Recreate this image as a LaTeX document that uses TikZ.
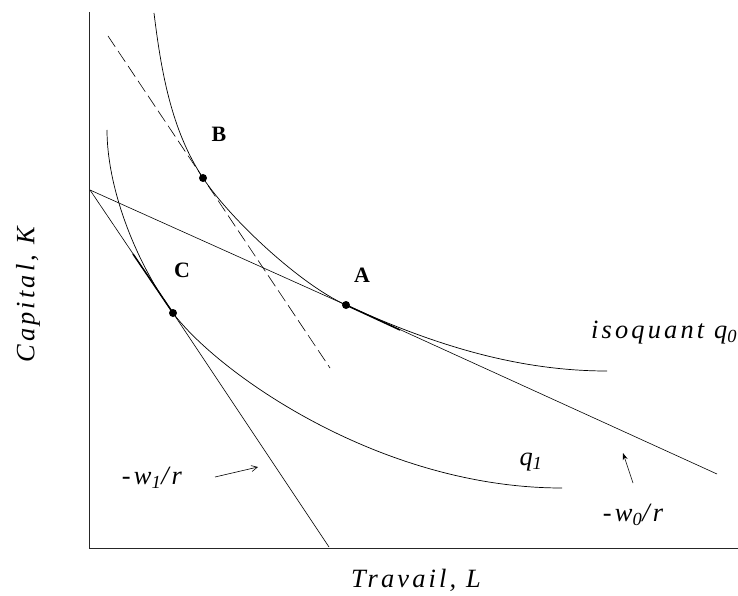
\documentclass[tikz,border=0pt]{standalone}
\usepackage{fontspec}
\setmainfont{Liberation Serif}
\usetikzlibrary{arrows.meta}
\tikzset{
  lbl/.style={inner sep=0pt, font=\fontsize{26.5}{30}\selectfont\itshape\addfontfeature{LetterSpace=12}},
  ptlbl/.style={inner sep=0pt, font=\fontsize{22}{26}\selectfont\bfseries},
  dotpt/.style={circle, fill=black, inner sep=0pt, minimum size=8bp},
  axis/.style={line width=0.8bp, black!85},
  curve/.style={line width=0.7bp},
  budget/.style={line width=0.6bp},
  overlap/.style={line width=1.5bp},
  dashline/.style={line width=0.6bp, dash pattern=on 13bp off 5bp},
  note/.style={line width=0.6bp}
}
\begin{document}
\begin{tikzpicture}[x=1bp,y=-1bp]
\useasboundingbox (0,0) rectangle (738,596);
% axes
\coordinate (Otop) at (89,12);
\coordinate (Orig) at (89,548);
\coordinate (Xend) at (738,548);
\draw[axis] (Otop) -- (Orig) -- (Xend);
% points
\node[dotpt] (A) at (346,305) {};
\node[dotpt] (B) at (203,178) {};
\node[dotpt] (C) at (173,313) {};
% isoquant q0
\coordinate (q0s) at (154,13);
\coordinate (q0e) at (607,371);
\draw[curve] (q0s) .. controls (161,70) and (171,130) .. (B.center)
  .. controls (230.7,219.6) and (300.4,284.5) .. (A.center)
  .. controls (419,338) and (507,371) .. (q0e);
% isoquant q1
\coordinate (q1s) at (107,130);
\coordinate (q1e) at (562,488);
\draw[curve] (q1s) .. controls (107,185) and (133,258) .. (C.center)
  .. controls (218,373) and (380,488) .. (q1e);
% budget lines
\coordinate (S) at (90,190);
\coordinate (E0) at (717,474);
\coordinate (E1) at (329,547);
\draw[budget] (S) -- (A.center) -- (E0);
\draw[budget] (S) -- (C.center) -- (E1);
\coordinate (T1) at (133,254);
\coordinate (T0) at (400,330);
\draw[overlap] (T1) -- (C.center);
\draw[overlap] (A.center) -- (T0);
% dashed tangent at B
\coordinate (D0) at (108,36);
\coordinate (D1) at (330,368);
\draw[dashline] (D0) -- (B.center) -- (D1);
% point labels
\node[ptlbl] (Al) at (362,275) {A};
\node[ptlbl] (Bl) at (219,134) {B};
\node[ptlbl] (Cl) at (182,270) {C};
% text labels
\node[lbl] (iso) [anchor=west] at (591,333) {isoquant q\textsubscript{0}};
\node[lbl] (q1) at (531,462) {q\textsubscript{1}};
\node[lbl] (w1) at (152,478) {-w\textsubscript{1}/r};
\node[lbl] (w0) at (633,515) {-w\textsubscript{0}/r};
\node[lbl] (xl) at (416,580) {Travail, L};
\node[lbl, rotate=90] (yl) at (28,295) {Capital, K};
% arrows
\coordinate (a1s) at (215,477);
\coordinate (a1e) at (258,467);
\draw[note, -{Straight Barb[length=6bp,width=6bp]}] (a1s) -- (a1e);
\coordinate (a0s) at (633,483);
\coordinate (a0e) at (623,453);
\draw[note, -{Stealth[length=7bp,width=5bp]}] (a0s) -- (a0e);
\end{tikzpicture}
\end{document}
